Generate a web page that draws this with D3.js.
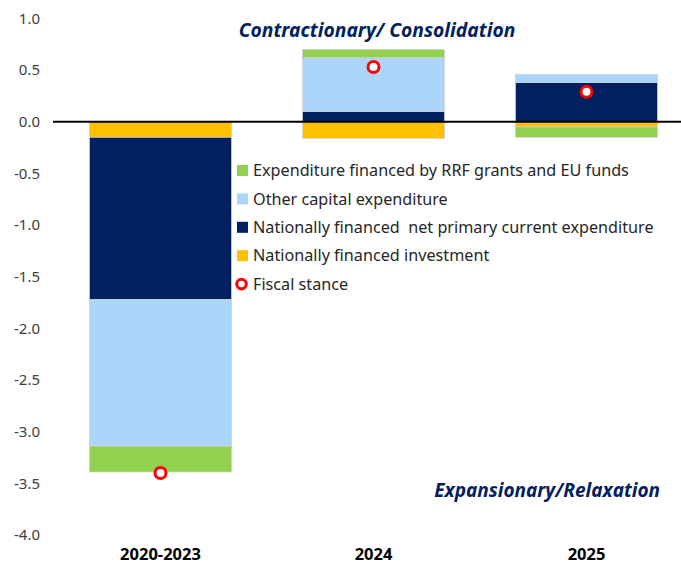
<!DOCTYPE html>
<html>
<head>
<meta charset="utf-8">
<script src="https://cdn.jsdelivr.net/npm/d3@7"></script>
<style>
  body { margin: 0; background: #fff; }
  svg { display: block; font-family: "Noto Sans", sans-serif; }
</style>
</head>
<body>
<div class="chart"></div>
<script>
const categories = ["2020-2023", "2024", "2025"];
const investment = [-0.15, -0.16, -0.05];
const currentExp = [-1.57, 0.10, 0.38];
const otherCapital = [-1.42, 0.52, 0.08];
const rrfFunds = [-0.25, 0.08, -0.10];
const fiscalStance = [-3.40, 0.53, 0.29];
const yTicks = [1.0, 0.5, 0.0, -0.5, -1.0, -1.5, -2.0, -2.5, -3.0, -3.5, -4.0];

const W = 681, H = 566;
const svg = d3.select('.chart').append('svg')
  .attr('width', W)
  .attr('height', H);

const x = d3.scaleBand()
  .domain(categories)
  .range([54, 693])
  .paddingInner(1 / 3)
  .paddingOuter(1 / 6);

const y = d3.scaleLinear()
  .domain([-4, 1])
  .range([535, 18.5]);

// stack order: investment first, then current, other capital, RRF
const series = [
  { key: 'investment', name: 'Nationally financed investment', color: '#ffc000', values: investment },
  { key: 'current', name: 'Nationally financed  net primary current expenditure', color: '#002060', values: currentExp },
  { key: 'capital', name: 'Other capital expenditure', color: '#abd6fa', values: otherCapital },
  { key: 'rrf', name: 'Expenditure financed by RRF grants and EU funds', color: '#92d050', values: rrfFunds }
];
const rows = categories.map((c, i) => {
  const r = { cat: c };
  series.forEach(s => { r[s.key] = s.values[i]; });
  return r;
});
const stacked = d3.stack()
  .keys(series.map(s => s.key))
  .offset(d3.stackOffsetDiverging)(rows);

// Y axis labels (plain hyphen for negatives, like the original)
svg.append('g')
  .attr('transform', 'translate(40,0)')
  .call(d3.axisLeft(y).tickValues(yTicks).tickSize(0).tickPadding(0)
    .tickFormat(d => d.toFixed(1)))
  .call(g => g.select('.domain').remove())
  .selectAll('text')
  .attr('font-family', '"Noto Sans", sans-serif')
  .attr('font-size', 15)
  .attr('fill', '#404040');

// bars
stacked.forEach((layer, li) => {
  svg.append('g')
    .selectAll('rect')
    .data(layer)
    .enter()
    .append('rect')
    .attr('x', d => x(d.data.cat))
    .attr('width', x.bandwidth())
    .attr('y', d => y(Math.max(d[0], d[1])))
    .attr('height', d => Math.abs(y(d[0]) - y(d[1])))
    .attr('fill', series[li].color)
    .attr('stroke', '#d0d0d0')
    .attr('stroke-width', 0.75);
});

// zero line
svg.append('line')
  .attr('x1', 53).attr('x2', W)
  .attr('y1', y(0)).attr('y2', y(0))
  .attr('stroke', '#000')
  .attr('stroke-width', 2);

// fiscal stance markers
svg.append('g')
  .selectAll('circle')
  .data(fiscalStance)
  .enter()
  .append('circle')
  .attr('cx', (d, i) => x(categories[i]) + x.bandwidth() / 2)
  .attr('cy', d => y(d))
  .attr('r', 5.5)
  .attr('fill', '#fff')
  .attr('stroke', '#ff0000')
  .attr('stroke-width', 3);

// X axis labels
svg.append('g')
  .attr('transform', 'translate(0,554)')
  .call(d3.axisBottom(x).tickSize(0).tickPadding(0))
  .call(g => g.select('.domain').remove())
  .selectAll('text')
  .attr('dy', '0.35em')
  .attr('y', 0)
  .attr('font-family', '"Noto Sans", sans-serif')
  .attr('font-size', 16.5)
  .attr('font-weight', 'bold')
  .attr('fill', '#000');

// annotations
svg.append('text')
  .attr('x', 377).attr('y', 30).attr('dy', '0.35em')
  .attr('text-anchor', 'middle')
  .attr('font-size', 19.3)
  .attr('font-weight', 'bold')
  .attr('font-style', 'italic')
  .attr('fill', '#002060')
  .text('Contractionary/ Consolidation');

svg.append('text')
  .attr('x', 660).attr('y', 490).attr('dy', '0.35em')
  .attr('text-anchor', 'end')
  .attr('font-size', 19)
  .attr('font-weight', 'bold')
  .attr('font-style', 'italic')
  .attr('fill', '#002060')
  .text('Expansionary/Relaxation');

// legend
const legendItems = [series[3], series[2], series[1], series[0]];
const legend = svg.append('g').attr('transform', 'translate(237,170.5)');
legendItems.forEach((s, i) => {
  const g = legend.append('g').attr('transform', `translate(0,${i * 28.4})`);
  g.append('rect')
    .attr('x', 0).attr('y', -5.5)
    .attr('width', 11).attr('height', 11)
    .attr('fill', s.color);
  g.append('text')
    .attr('x', 16).attr('dy', '0.35em')
    .attr('font-size', 16.2)
    .attr('fill', '#262626')
    .style('white-space', 'pre')
    .text(s.name);
});
const lg = legend.append('g').attr('transform', `translate(0,${4 * 28.4})`);
lg.append('circle')
  .attr('cx', 4.5).attr('cy', 0).attr('r', 4.8)
  .attr('fill', '#fff')
  .attr('stroke', '#ff0000')
  .attr('stroke-width', 3);
lg.append('text')
  .attr('x', 16).attr('dy', '0.35em')
  .attr('font-size', 16.2)
  .attr('fill', '#262626')
  .text('Fiscal stance');
</script>
</body>
</html>
